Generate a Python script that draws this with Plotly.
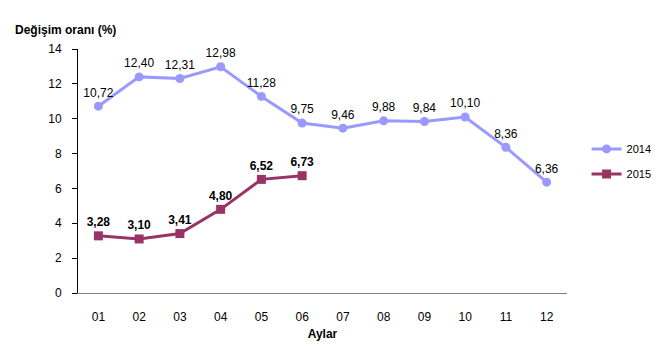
import plotly.graph_objects as go

months = ["01", "02", "03", "04", "05", "06", "07", "08", "09", "10", "11", "12"]
v2014 = [10.72, 12.40, 12.31, 12.98, 11.28, 9.75, 9.46, 9.88, 9.84, 10.10, 8.36, 6.36]
v2015 = [3.28, 3.10, 3.41, 4.80, 6.52, 6.73]

def fmt(v):
    return f"{v:.2f}".replace(".", ",")

x_idx = list(range(len(months)))
font = "Liberation Sans, Arial, sans-serif"

fig = go.Figure()
fig.add_trace(go.Scatter(
    x=x_idx, y=v2014, name="2014", legendgroup="a", mode="lines+markers+text",
    line=dict(color="#9999FF", width=3),
    marker=dict(symbol="circle", size=9, color="#9999FF"),
    text=[fmt(v) for v in v2014], textposition="top center",
    textfont=dict(family=font, size=12, color="#000000"),
    cliponaxis=False,
))
fig.add_trace(go.Scatter(
    x=x_idx[:len(v2015)], y=v2015, name="2015", legendgroup="b", mode="lines+markers+text",
    line=dict(color="#993366", width=3),
    marker=dict(symbol="square", size=9, color="#993366"),
    text=["<b>" + fmt(v) + "</b>" for v in v2015], textposition="top center",
    textfont=dict(family=font, size=12, color="#000000"),
    cliponaxis=False,
))

fig.update_layout(
    width=672, height=348,
    margin=dict(l=78, r=105, t=49, b=55),
    paper_bgcolor="white", plot_bgcolor="white",
    font=dict(family=font, size=12, color="#000000"),
    showlegend=True,
    legend=dict(x=1.04, y=0.65, xanchor="left", yanchor="top",
                font=dict(family=font, size=11), tracegroupgap=6,
                bgcolor="rgba(0,0,0,0)"),
    xaxis=dict(
        range=[-0.5, 11.5], tickmode="array", tickvals=x_idx, ticktext=months,
        showgrid=False, zeroline=False, showline=True, linecolor="#808080",
        ticks="", tickfont=dict(size=12), ticklabelstandoff=13, automargin=False,
        title=dict(text="<b>Aylar</b>", font=dict(size=12), standoff=6),
    ),
    yaxis=dict(
        range=[0, 14], dtick=2, showgrid=False, zeroline=False, automargin=False,
        showline=True, linecolor="#000000", ticks="outside", ticklen=5,
        tickcolor="#000000", tickfont=dict(size=12), ticklabelstandoff=8,
    ),
    annotations=[dict(text="<b>Değişim oranı (%)</b>", x=(13 - 78) / 489, y=(293 - 30) / 244,
                      xref="paper", yref="paper",
                      showarrow=False, xanchor="left", yanchor="middle",
                      font=dict(size=12))],
)

fig.write_html("out.html")
